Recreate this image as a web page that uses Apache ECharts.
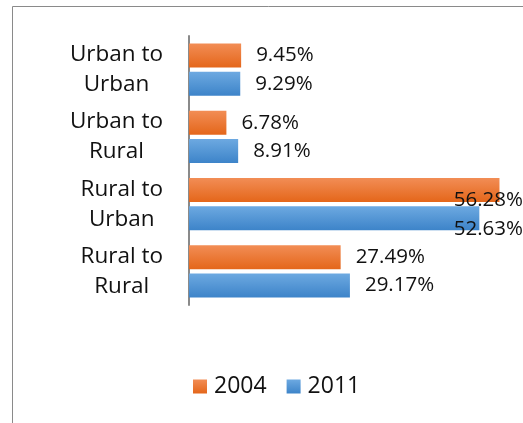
<!DOCTYPE html>
<html>
<head>
<meta charset="utf-8">
<script src="https://cdn.jsdelivr.net/npm/echarts@6/dist/echarts.min.js"></script>
<style>
  html, body { margin: 0; padding: 0; background: #fff; }
  #chart { width: 523px; height: 423px; }
</style>
</head>
<body>
<div id="chart"></div>
<script>
// Migration streams, share of migrants (%)
const categories = ['Urban to\nUrban', 'Urban to\nRural', 'Rural to\nUrban', 'Rural to\nRural'];
const seriesNames = ['2004', '2011'];
const values2004 = [9.45, 6.78, 56.28, 27.49];
const values2011 = [9.29, 8.91, 52.63, 29.17];

const FONT = '"Open Sans", "Noto Sans", sans-serif';

function grad(top, bottom) {
  return new echarts.graphic.LinearGradient(0, 0, 0, 1, [
    { offset: 0, color: top },
    { offset: 1, color: bottom }
  ]);
}
const orange = grad('#F28D55', '#E4661A');
const blue = grad('#6DA9E1', '#3D84C9');

const labelStyle = {
  show: true,
  position: 'right',
  distance: 15,
  fontFamily: FONT,
  fontSize: 20.5,
  color: '#111',
  formatter: p => p.value.toFixed(2) + '%'
};

const chart = echarts.init(document.getElementById('chart'), null, { renderer: 'canvas' });
chart.setOption({
  animation: false,
  backgroundColor: '#fff',
  graphic: [{
    type: 'rect',
    shape: { x: 12.5, y: 6.5, width: 600, height: 600 },
    style: { fill: 'none', stroke: '#8a8a8a', lineWidth: 1 },
    silent: true
  }],
  grid: { left: 189, top: 36, width: 331, height: 269, containLabel: false },
  xAxis: {
    type: 'value',
    min: 0,
    max: 60,
    show: false
  },
  yAxis: {
    type: 'category',
    data: categories,
    inverse: true,
    axisLine: { show: true, lineStyle: { color: '#8a8a8a', width: 2 } },
    axisTick: { show: false },
    axisLabel: {
      margin: 26,
      align: 'right',
      formatter: v => v.split('\n').map(s => '{c|' + s + '}').join('\n'),
      rich: {
        c: {
          align: 'center',
          fontFamily: FONT,
          fontSize: 22.5,
          lineHeight: 30,
          color: '#111'
        }
      }
    }
  },
  legend: {
    bottom: 20,
    left: 188,
    itemWidth: 14,
    itemHeight: 14,
    itemGap: 20,
    icon: 'rect',
    textStyle: { fontFamily: FONT, fontSize: 23, color: '#111', padding: [0, 0, 0, 2] },
    data: seriesNames
  },
  // Labels that would run past the right edge are kept flush with it
  labelLayout: function (params) {
    const r = params.labelRect;
    const w = chart.getWidth();
    if (r.x + r.width > w) {
      return { x: w - r.width, align: 'left' };
    }
    return {};
  },
  series: [
    {
      name: seriesNames[0],
      type: 'bar',
      data: values2004,
      barWidth: 24,
      barGap: '17%',
      itemStyle: { color: orange },
      label: labelStyle
    },
    {
      name: seriesNames[1],
      type: 'bar',
      data: values2011,
      barWidth: 24,
      barGap: '17%',
      itemStyle: { color: blue },
      label: labelStyle
    }
  ]
});
</script>
</body>
</html>
